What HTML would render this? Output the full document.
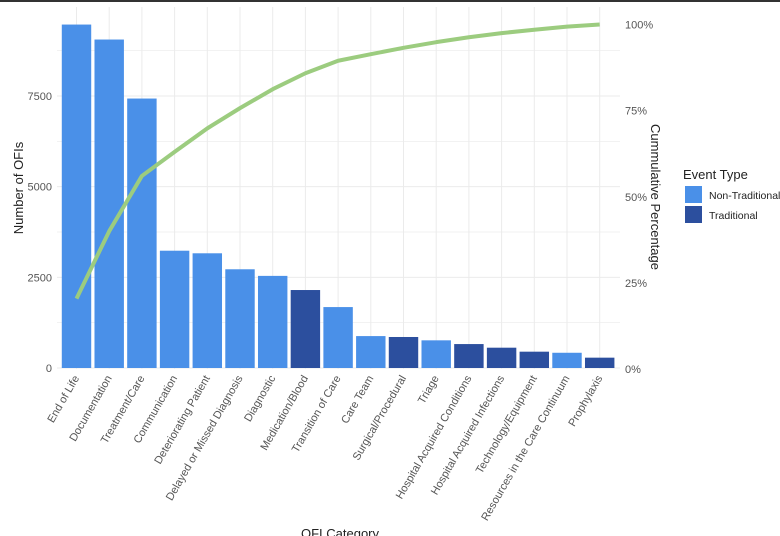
<!DOCTYPE html>
<html><head><meta charset="utf-8"><style>
html,body{margin:0;padding:0;background:#fff;}
svg{display:block;font-family:"Liberation Sans",Arial,sans-serif;}
</style></head><body>
<svg id="chart" width="780" height="536" viewBox="0 0 780 536">
<rect x="0" y="0" width="780" height="2" fill="#333"/>
<g id="grid"></g><g id="bars"></g><g id="line"></g><g id="axes"></g>
<text x="0" y="0" transform="translate(23,188) rotate(-90)" text-anchor="middle" font-size="13" fill="#222">Number of OFIs</text>
<text x="0" y="0" transform="translate(651,197) rotate(90)" text-anchor="middle" font-size="13" fill="#222">Cummulative Percentage</text>
<text x="340" y="538" text-anchor="middle" font-size="13" fill="#222">OFI Category</text>
<g>
<text x="683" y="179" font-size="13" fill="#222">Event Type</text>
<rect x="685" y="186" width="17" height="17" fill="#4a90e8"/>
<text x="709" y="199" font-size="10.5" fill="#222">Non-Traditional</text>
<rect x="685" y="206" width="17" height="17" fill="#2c4f9e"/>
<text x="709" y="219" font-size="10.5" fill="#222">Traditional</text>
</g>
</svg>
<script>
const categories=["End of Life","Documentation","Treatment/Care","Communication","Deteriorating Patient","Delayed or Missed Diagnosis","Diagnostic","Medication/Blood","Transition of Care","Care Team","Surgical/Procedural","Triage","Hospital Acquired Conditions","Hospital Acquired Infections","Technology/Equipment","Resources in the Care Continuum","Prophylaxis"];
const counts=[9470,9057,7430,3234,3163,2722,2540,2150,1680,880,855,763,660,560,450,420,285];
const eventTypes=["N","N","N","N","N","N","N","T","N","N","T","N","T","T","T","N","T"];
const leftTicks=[0,2500,5000,7500];
const rightTicks=[0,25,50,75,100];
const NS="http://www.w3.org/2000/svg";
const X0=57,X1=620,Y0=369,Y1=7;
const band=32.7;
function xs(i){return 76.5+i*band;}
function yl(v){return 368-v*(272/7500);}
function yr(p){return 369-p*3.445;}
function mk(tag,attrs,parent){const e=document.createElementNS(NS,tag);for(const k in attrs)e.setAttribute(k,attrs[k]);parent.appendChild(e);return e;}
const grid=document.getElementById('grid'),bars=document.getElementById('bars'),line=document.getElementById('line'),axes=document.getElementById('axes');
for(let v=0;v<=9500;v+=1250){const y=yl(v);if(y<Y1)continue;
const g=mk('line',{x1:X0,x2:X1,y1:y,y2:y,stroke:'#ebebeb','stroke-width':v%2500===0?1:0.7},grid);

}
categories.forEach((c,i)=>{const g=mk('line',{x1:xs(i),x2:xs(i),y1:Y1,y2:Y0,stroke:'#ebebeb','stroke-width':1},grid);

});
const bw=band*0.9;
categories.forEach((c,i)=>{const y=yl(counts[i]);
const r=mk('rect',{x:xs(i)-bw/2,y:y,width:bw,height:368-y,fill:eventTypes[i]==="T"?'#2c4f9e':'#4a90e8'},bars);


const t=mk('text',{transform:`translate(${xs(i)+3},378) rotate(-60)`,'text-anchor':'end','font-size':'11',fill:'#555'},axes);
t.textContent=c;

});
const total=counts.reduce((a,b)=>a+b,0);let cum=0;const pts=counts.map((v,i)=>{cum+=v;return xs(i)+','+yr(cum/total*100);});
const pl=mk('polyline',{points:pts.join(' '),fill:'none',stroke:'#9ccc7f','stroke-width':4,'stroke-linejoin':'round'},line);


leftTicks.forEach(v=>{const t=mk('text',{x:52,y:yl(v)+4,'text-anchor':'end','font-size':'11',fill:'#555'},axes);t.textContent=v;

});
rightTicks.forEach(p=>{const t=mk('text',{x:625,y:yr(p)+4,'font-size':'11',fill:'#555'},axes);t.textContent=p+'%';

});
</script>
</body></html>
